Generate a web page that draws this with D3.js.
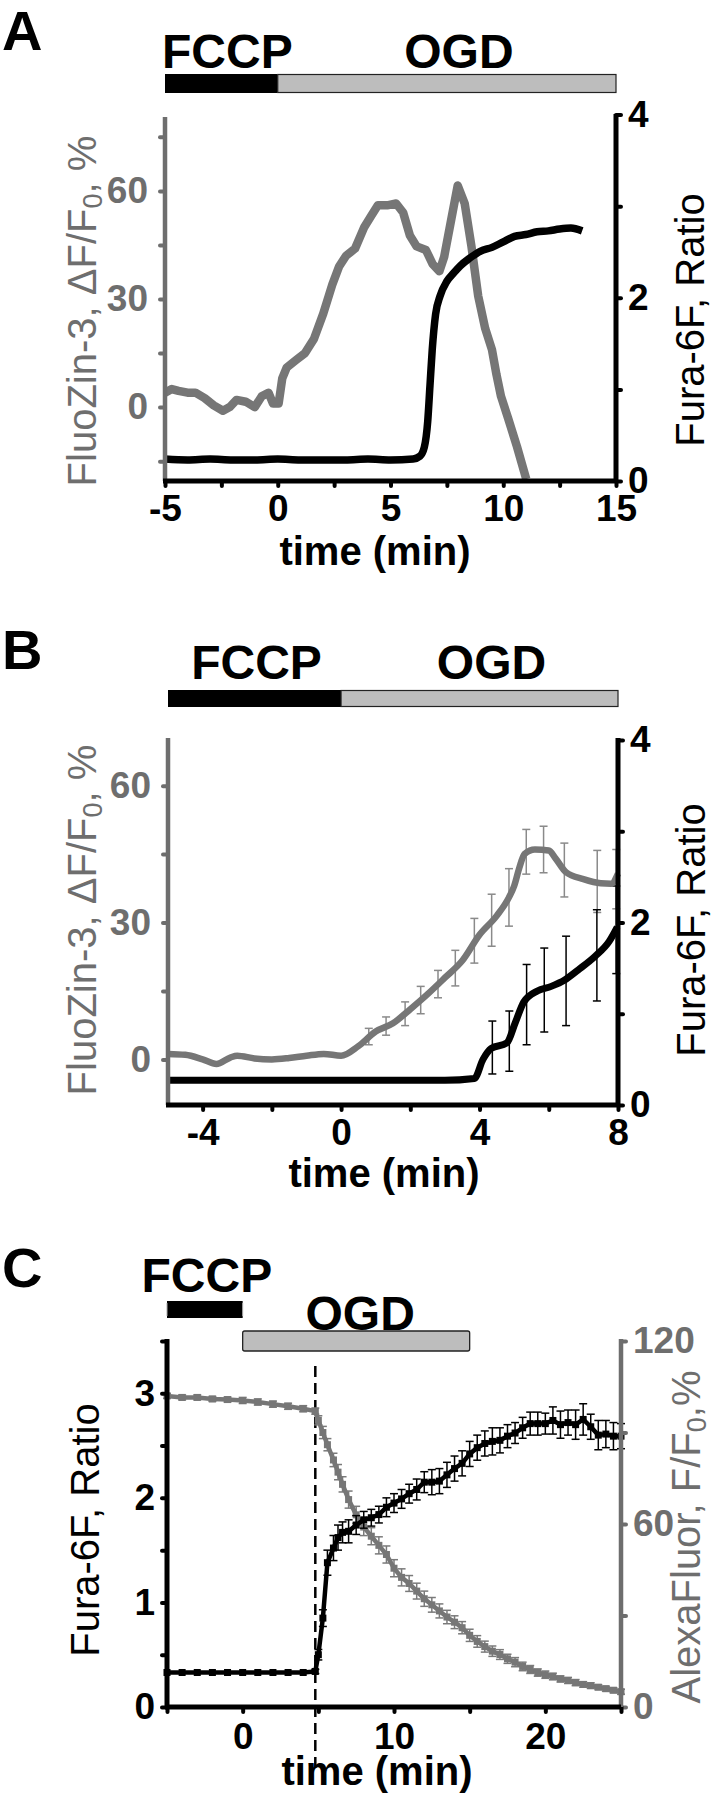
<!DOCTYPE html>
<html><head><meta charset="utf-8">
<script src="https://cdn.jsdelivr.net/npm/d3@7"></script>
<style>body{margin:0;background:#fff} svg{display:block}</style>
</head><body><script>
// ================= DATA =================
// Panel A
const aGrayTime = [-5,-4.7,-4.4,-4.0,-3.65,-3.24,-2.84,-2.43,-2.13,-1.83,-1.42,-1.02,-0.71,-0.41,-0.21,0.04,0.20,0.40,0.80,1.21,1.61,2.02,2.42,2.72,3.03,3.43,3.84,4.14,4.44,4.85,5.25,5.56,5.86,6.16,6.57,6.87,7.17,7.38,7.68,7.98,8.29,8.59,8.89,9.20,9.50,9.70,9.90,10.21,10.61,11.02];
const aFluoZin  = [4,5,4.5,4,4,2.5,0.5,-1,0,2,1.5,0,3,4,1,1,8,11,13,15,19,26,34,39,42,44,50,53,56,56,56.5,54,47.6,44.6,43.6,39.7,37.7,41.7,51.6,61.5,56.5,44.6,30.8,21.8,15.9,9,3,-3,-11,-20];
const aBlackTime = [-5,-4,-3,-2,-1,0,1,2,3,4,5,6,6.3,6.5,6.65,6.75,6.85,7,7.2,7.5,7.8,8.1,8.5,9,9.5,10,10.5,11,11.5,12,12.5,13,13.5];
const aFura      = [0.24,0.23,0.24,0.23,0.23,0.24,0.23,0.23,0.23,0.24,0.23,0.24,0.27,0.37,0.65,1.04,1.43,1.82,2.02,2.18,2.27,2.35,2.43,2.51,2.55,2.61,2.67,2.69,2.72,2.73,2.75,2.76,2.73];
const aXTicks = [-5,-2.5,0,2.5,5,7.5,10,12.5,15];
const aXLabels = [-5,0,5,10,15];
const aLeftTicks = [-15,0,15,30,45,60,75];
const aLeftLabels = [0,30,60];
const aRightTicks = [0,1,2,3,4];
const aRightLabels = [0,2,4];
const aTreatNames = ["FCCP","OGD"];
const aTreatStart = [-5,0];
const aTreatEnd = [0,15];

// Panel B
const bGrayTime = [-5,-4.5,-4,-3.6,-3.2,-3,-2.5,-2,-1.5,-1,-0.5,0,0.5,1,1.5,2,2.5,3,3.5,4,4.5,4.85,5.0,5.15,5.3,5.6,6.0,6.2,6.5,7,7.5,7.8,8];
const bFluoZin  = [1.2,1,0,-1,0.4,0.8,0.2,0,0.3,0.8,1.2,0.8,2.9,6.1,7.9,11,14.3,17.9,21.6,27.3,31.5,35.5,38,42,45,46,45.8,44,41,39.5,38.6,38.5,40.7];
const bGrayErrTime = [0.8,1.3,1.85,2.3,2.8,3.3,3.85,4.35,4.85,5.35,5.85,6.45,7.4,7.95];
const bGrayErrMean = [5,7.3,10,13,16.5,20,26,30.5,35.5,45.5,46,41.5,39,39.5];
const bGrayErr     = [1.8,2,2.6,3,3,3.9,4.9,5.7,6.3,4.9,5.1,5.9,6.8,6.5];
const bBlackTime = [-5,-4,-3,-2,-1,0,1,2,3,3.85,4.1,4.34,4.79,5.03,5.28,5.67,6.07,6.46,6.85,7.34,7.74,7.98];
const bFura      = [0.27,0.27,0.27,0.27,0.27,0.27,0.27,0.27,0.27,0.29,0.5,0.62,0.68,0.9,1.13,1.25,1.3,1.37,1.48,1.63,1.79,1.95];
const bBlackErrTime = [4.37,4.86,5.36,5.87,6.5,7.39,7.95];
const bBlackErrMean = [0.63,0.7,1.1,1.26,1.36,1.64,1.92];
const bBlackErr     = [0.29,0.33,0.44,0.46,0.49,0.5,0.48];
const bXTicks = [-4,-2,0,2,4,6,8];
const bXLabels = [-4,0,4,8];
const bLeftTicks = [0,15,30,45,60];
const bLeftLabels = [0,30,60];
const bRightTicks = [0,1,2,3,4];
const bRightLabels = [0,2,4];
const bTreatNames = ["FCCP","OGD"];
const bTreatStart = [-5,0];
const bTreatEnd = [0,8];

// Panel C
const cTime = [-5,-4,-3,-2,-1,0,1,2,3,4,4.8,5,5.3,5.6,6,6.3,6.6,7,7.5,8,8.5,9,9.5,10,10.5,11,11.5,12,12.5,13,13.5,14,14.5,15,15.5,16,16.5,17,17.5,18,18.5,19,19.5,20,20.5,21,21.5,22,22.5,23,23.5,24,24.5,25];
const cFura    = [0.33,0.33,0.33,0.33,0.33,0.33,0.33,0.33,0.33,0.33,0.34,0.5,0.85,1.38,1.52,1.62,1.67,1.68,1.74,1.79,1.81,1.84,1.91,1.95,1.99,2.04,2.08,2.15,2.15,2.16,2.22,2.28,2.33,2.42,2.48,2.52,2.54,2.55,2.59,2.62,2.67,2.71,2.71,2.71,2.74,2.70,2.72,2.70,2.75,2.68,2.60,2.61,2.59,2.59];
const cFuraErr = [0,0,0,0,0,0,0,0,0,0,0.02,0.05,0.08,0.12,0.12,0.12,0.1,0.11,0.09,0.08,0.08,0.08,0.09,0.09,0.09,0.09,0.1,0.1,0.12,0.12,0.12,0.12,0.12,0.12,0.12,0.12,0.13,0.12,0.11,0.1,0.1,0.11,0.11,0.1,0.13,0.13,0.12,0.14,0.15,0.12,0.14,0.13,0.13,0.12];
const cAlexa    = [102,101.5,101.5,101,100.8,100.5,100,99.3,98.6,97.8,97,94,90,86,81,77,73,68,63,59,56,53,50,45.5,42.5,40.5,38,35.5,33.5,31.5,29.5,27.8,26,23.5,21.5,19.8,18.3,17.2,15.8,14.7,13.3,12.3,11.3,10.6,10,9.2,8.7,8,7.4,7,6.5,6,5.5,5];
const cAlexaErr = [0.8,0.8,0.8,0.8,0.8,1,1,1,1,1,1,1.5,2,2,2.2,2.5,2.5,2.8,2.8,2.8,2.8,2.8,2.8,2.8,2.8,2.6,2.6,2.5,2.4,2.3,2.2,2.1,2,2,1.9,1.8,1.7,1.6,1.5,1.5,1.4,1.3,1.2,1.2,1.1,1,1,1,0.9,0.9,0.8,0.8,0.8,0.8];
const cOgdLine = 4.8;
const cXTicks = [-5,0,5,10,15,20,25];
const cXLabels = [0,10,20];
const cLeftTicks = [0,0.5,1,1.5,2,2.5,3,3.5];
const cLeftLabels = [0,1,2,3];
const cRightTicks = [0,30,60,90,120];
const cRightLabels = [0,60,120];
const cTreatNames = ["FCCP","OGD"];
const cTreatStart = [-5,0];
const cTreatEnd = [0,15];

// ================= DRAWING =================
const FONT = '"Liberation Sans", Arial, Helvetica, sans-serif';
const GRAY = "#6e6e6e", TRACE_GRAY = "#767676", BAR_GRAY = "#bdbdbd", BLACK = "#000";
const svg = d3.select("body").append("svg").attr("width",715).attr("height",1800)
  .style("font-family", FONT);
svg.append("rect").attr("width",715).attr("height",1800).attr("fill","#fff");

function txt(s, x, y, size, opts={}) {
  return svg.append("text").attr("x",x).attr("y",y).text(s)
    .attr("font-size",size).attr("font-weight",opts.weight||"bold")
    .attr("fill",opts.fill||BLACK).attr("text-anchor",opts.anchor||"start")
    .attr("font-family",FONT);
}
function vTitle(pre, sub, post, x, y, color, size) {
  const t = svg.append("text").attr("transform",`translate(${x},${y}) rotate(-90)`)
    .attr("text-anchor","middle").attr("font-size",size).attr("fill",color).attr("font-family",FONT);
  t.append("tspan").text(pre);
  if (sub) {
    t.append("tspan").text(sub).attr("font-size",size*0.68).attr("dy",size*0.16);
    t.append("tspan").text(post).attr("dy",-size*0.16);
  }
}
function styleAxis(g, color, size) {
  g.select(".domain").remove();
  g.selectAll(".tick line").attr("stroke",color).attr("stroke-width",4).attr("stroke-linecap","round");
  g.selectAll(".tick text").attr("fill",color).attr("font-size",size).attr("font-weight","bold").attr("font-family",FONT);
}
function fmt(labels){ return d => labels.includes(d) ? String(d) : ""; }
function zipPts(t, v){ return t.map((d,i)=>[d, v[i]]); }
function errBars(x, y, t, m, e, color, cap) {
  const g = svg.append("g").attr("stroke",color).attr("stroke-width",1.5).attr("fill","none");
  t.forEach((d,i)=>{
    if (!e[i]) return;
    const xx = x(d), y1 = y(m[i]-e[i]), y2 = y(m[i]+e[i]);
    g.append("line").attr("x1",xx).attr("x2",xx).attr("y1",y1).attr("y2",y2);
    g.append("line").attr("x1",xx-cap).attr("x2",xx+cap).attr("y1",y1).attr("y2",y1);
    g.append("line").attr("x1",xx-cap).attr("x2",xx+cap).attr("y1",y2).attr("y2",y2);
  });
}

// ---------- Panel A ----------
(function(){
  const x = d3.scaleLinear().domain([-5,15]).range([165,616]);
  const yL = d3.scaleLinear().domain([-20.5,80.5]).range([481,117]);
  const yR = d3.scaleLinear().domain([0,4]).range([481,114.5]);
  txt("A", 2, 50, 56);
  svg.append("rect").attr("x",x(aTreatStart[0])).attr("y",74).attr("width",x(aTreatEnd[0])-x(aTreatStart[0])).attr("height",19).attr("fill",BLACK);
  svg.append("rect").attr("x",x(aTreatStart[1])).attr("y",74.5).attr("width",x(aTreatEnd[1])-x(aTreatStart[1])).attr("height",18).attr("fill",BAR_GRAY).attr("stroke","#222").attr("stroke-width",1.2);
  txt(aTreatNames[0], (x(aTreatStart[0])+x(aTreatEnd[0]))/2+6, 68, 48, {anchor:"middle"});
  txt(aTreatNames[1], (x(aTreatStart[1])+x(aTreatEnd[1]))/2+12, 68, 48, {anchor:"middle"});
  svg.append("path").datum(zipPts(aGrayTime,aFluoZin)).attr("d",d3.line().x(d=>x(d[0])).y(d=>yL(d[1])))
    .attr("fill","none").attr("stroke",TRACE_GRAY).attr("stroke-width",8.5).attr("stroke-linejoin","round");
  svg.append("path").datum(zipPts(aBlackTime,aFura)).attr("d",d3.line().curve(d3.curveMonotoneX).x(d=>x(d[0])).y(d=>yR(d[1])))
    .attr("fill","none").attr("stroke",BLACK).attr("stroke-width",7.5).attr("stroke-linejoin","round");
  styleAxis(svg.append("g").attr("transform","translate(165,0)").call(d3.axisLeft(yL).tickValues(aLeftTicks).tickFormat(fmt(aLeftLabels)).tickSize(5).tickPadding(12)), GRAY, 37);
  styleAxis(svg.append("g").attr("transform","translate(616,0)").call(d3.axisRight(yR).tickValues(aRightTicks).tickFormat(fmt(aRightLabels)).tickSize(5).tickPadding(7)), BLACK, 37);
  styleAxis(svg.append("g").attr("transform","translate(0,481)").call(d3.axisBottom(x).tickValues(aXTicks).tickFormat(fmt(aXLabels)).tickSize(5).tickPadding(9)), BLACK, 37);
  svg.append("line").attr("x1",165).attr("x2",165).attr("y1",481).attr("y2",117).attr("stroke",GRAY).attr("stroke-width",4.5);
  svg.append("line").attr("x1",616).attr("x2",616).attr("y1",483).attr("y2",114).attr("stroke",BLACK).attr("stroke-width",5);
  svg.append("line").attr("x1",163).attr("x2",618).attr("y1",481).attr("y2",481).attr("stroke",BLACK).attr("stroke-width",5);
  txt("time (min)", 375, 565, 40, {anchor:"middle"});
  vTitle("FluoZin-3, \u0394F/F","0",", %", 96, 311, GRAY, 40);
  vTitle("Fura-6F, Ratio",null,null, 704, 320, BLACK, 40);
})();

// ---------- Panel B ----------
(function(){
  const x = d3.scaleLinear().domain([-5,8]).range([168,618]);
  const yL = d3.scaleLinear().domain([-10,70]).range([1105,740]);
  const yR = d3.scaleLinear().domain([0,4]).range([1105,740]);
  txt("B", 2, 669, 56);
  svg.append("rect").attr("x",x(bTreatStart[0])).attr("y",690).attr("width",x(bTreatEnd[0])-x(bTreatStart[0])).attr("height",17).attr("fill",BLACK);
  svg.append("rect").attr("x",x(bTreatStart[1])).attr("y",690.5).attr("width",x(bTreatEnd[1])-x(bTreatStart[1])).attr("height",16).attr("fill",BAR_GRAY).attr("stroke","#222").attr("stroke-width",1.2);
  txt(bTreatNames[0], (x(bTreatStart[0])+x(bTreatEnd[0]))/2+2, 679, 48, {anchor:"middle"});
  txt(bTreatNames[1], (x(bTreatStart[1])+x(bTreatEnd[1]))/2+12, 679, 48, {anchor:"middle"});
  errBars(x, yL, bGrayErrTime, bGrayErrMean, bGrayErr, "#8a8a8a", 4);
  errBars(x, yR, bBlackErrTime, bBlackErrMean, bBlackErr, BLACK, 4);
  svg.append("path").datum(zipPts(bGrayTime,bFluoZin)).attr("d",d3.line().curve(d3.curveMonotoneX).x(d=>x(d[0])).y(d=>yL(d[1])))
    .attr("fill","none").attr("stroke",TRACE_GRAY).attr("stroke-width",6.5).attr("stroke-linejoin","round");
  svg.append("path").datum(zipPts(bBlackTime,bFura)).attr("d",d3.line().curve(d3.curveMonotoneX).x(d=>x(d[0])).y(d=>yR(d[1])))
    .attr("fill","none").attr("stroke",BLACK).attr("stroke-width",7).attr("stroke-linejoin","round");
  styleAxis(svg.append("g").attr("transform","translate(168,0)").call(d3.axisLeft(yL).tickValues(bLeftTicks).tickFormat(fmt(bLeftLabels)).tickSize(5).tickPadding(12)), GRAY, 37);
  styleAxis(svg.append("g").attr("transform","translate(618,0)").call(d3.axisRight(yR).tickValues(bRightTicks).tickFormat(fmt(bRightLabels)).tickSize(5).tickPadding(7)), BLACK, 37);
  styleAxis(svg.append("g").attr("transform","translate(0,1105)").call(d3.axisBottom(x).tickValues(bXTicks).tickFormat(fmt(bXLabels)).tickSize(5).tickPadding(9)), BLACK, 37);
  svg.append("line").attr("x1",168).attr("x2",168).attr("y1",1105).attr("y2",738).attr("stroke",GRAY).attr("stroke-width",4.5);
  svg.append("line").attr("x1",618).attr("x2",618).attr("y1",1107).attr("y2",738).attr("stroke",BLACK).attr("stroke-width",5);
  svg.append("line").attr("x1",166).attr("x2",620).attr("y1",1105).attr("y2",1105).attr("stroke",BLACK).attr("stroke-width",5);
  txt("time (min)", 384, 1187, 40, {anchor:"middle"});
  vTitle("FluoZin-3, \u0394F/F","0",", %", 96, 920, GRAY, 40);
  vTitle("Fura-6F, Ratio",null,null, 705, 930, BLACK, 40);
})();

// ---------- Panel C ----------
(function(){
  const x = d3.scaleLinear().domain([-5,25]).range([167,621]);
  const yL = d3.scaleLinear().domain([0,3.5]).range([1707,1341]);
  const yR = d3.scaleLinear().domain([0,120]).range([1707,1341]);
  txt("C", 2, 1287, 56);
  const fx0 = x(cTreatStart[0]), fx1 = x(cTreatEnd[0]);
  svg.append("rect").attr("x",fx0).attr("y",1301).attr("width",fx1-fx0).attr("height",17).attr("fill",BLACK);
  svg.append("line").attr("x1",fx0).attr("x2",fx0).attr("y1",1303).attr("y2",1316).attr("stroke","#aaa").attr("stroke-width",1);
  svg.append("line").attr("x1",fx1).attr("x2",fx1).attr("y1",1303).attr("y2",1316).attr("stroke","#aaa").attr("stroke-width",1);
  svg.append("rect").attr("x",x(cTreatStart[1])).attr("y",1331).attr("width",x(cTreatEnd[1])-x(cTreatStart[1])).attr("height",20).attr("rx",2)
    .attr("fill",BAR_GRAY).attr("stroke","#222").attr("stroke-width",1.3);
  txt(cTreatNames[0], (fx0+fx1)/2+2, 1292, 48, {anchor:"middle"});
  txt(cTreatNames[1], (x(cTreatStart[1])+x(cTreatEnd[1]))/2+4, 1330, 48, {anchor:"middle"});
  svg.append("line").attr("x1",x(cOgdLine)).attr("x2",x(cOgdLine)).attr("y1",1366).attr("y2",1772)
    .attr("stroke",BLACK).attr("stroke-width",2.5).attr("stroke-dasharray","11,6");
  errBars(x, yR, cTime, cAlexa, cAlexaErr, "#7a7a7a", 4);
  svg.append("path").datum(zipPts(cTime,cAlexa)).attr("d",d3.line().x(d=>x(d[0])).y(d=>yR(d[1])))
    .attr("fill","none").attr("stroke",TRACE_GRAY).attr("stroke-width",4.5);
  svg.append("g").selectAll("rect").data(zipPts(cTime,cAlexa)).join("rect")
    .attr("x",d=>x(d[0])-3.5).attr("y",d=>yR(d[1])-3.5).attr("width",7).attr("height",7).attr("fill",TRACE_GRAY);
  errBars(x, yL, cTime, cFura, cFuraErr, BLACK, 4);
  svg.append("path").datum(zipPts(cTime,cFura)).attr("d",d3.line().x(d=>x(d[0])).y(d=>yL(d[1])))
    .attr("fill","none").attr("stroke",BLACK).attr("stroke-width",4.5);
  svg.append("g").selectAll("rect").data(zipPts(cTime,cFura)).join("rect")
    .attr("x",d=>x(d[0])-3.5).attr("y",d=>yL(d[1])-3.5).attr("width",7).attr("height",7).attr("fill",BLACK);
  styleAxis(svg.append("g").attr("transform","translate(167,0)").call(d3.axisLeft(yL).tickValues(cLeftTicks).tickFormat(fmt(cLeftLabels)).tickSize(5).tickPadding(7)), BLACK, 37);
  styleAxis(svg.append("g").attr("transform","translate(621,0)").call(d3.axisRight(yR).tickValues(cRightTicks).tickFormat(fmt(cRightLabels)).tickSize(5).tickPadding(7)), GRAY, 37);
  styleAxis(svg.append("g").attr("transform","translate(0,1707)").call(d3.axisBottom(x).tickValues(cXTicks).tickFormat(fmt(cXLabels)).tickSize(5).tickPadding(11)), BLACK, 37);
  svg.append("line").attr("x1",167).attr("x2",167).attr("y1",1709).attr("y2",1339).attr("stroke",BLACK).attr("stroke-width",5);
  svg.append("line").attr("x1",621).attr("x2",621).attr("y1",1707).attr("y2",1339).attr("stroke",GRAY).attr("stroke-width",4.5);
  svg.append("line").attr("x1",165).attr("x2",621).attr("y1",1707).attr("y2",1707).attr("stroke",BLACK).attr("stroke-width",5);
  txt("time (min)", 377, 1785, 40, {anchor:"middle"});
  vTitle("Fura-6F, Ratio",null,null, 99, 1530, BLACK, 40);
  vTitle("AlexaFluor, F/F","0",",%", 700, 1537, GRAY, 40);
})();
</script></body></html>
